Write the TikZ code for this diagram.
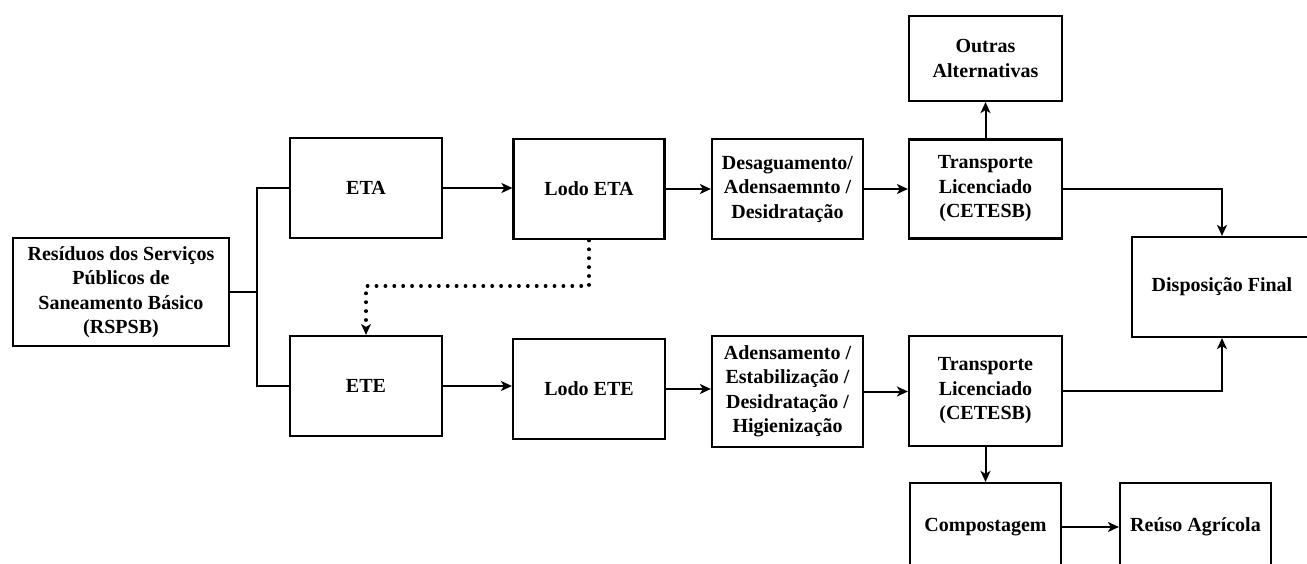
\documentclass[tikz,border=0pt]{standalone}
\usepackage{fontspec}
\setmainfont{Liberation Serif}
\usetikzlibrary{arrows.meta}
\begin{document}
\begin{tikzpicture}[x=1pt,y=-1pt,
  box/.style={draw,line width=2.2pt,rectangle,align=center,inner sep=0pt,
    font=\fontsize{20}{24.5}\selectfont\bfseries},
  conn/.style={line width=2pt},
  arr/.style={conn,-{Stealth[length=11pt,width=10pt,inset=3pt]}},
  dotarr/.style={line width=3.2pt,line cap=round,dash pattern=on 0.6pt off 8.3pt,
    -{Stealth[length=11pt,width=10pt,inset=3pt,line width=0pt]}}]
\useasboundingbox (0,0) rectangle (1307,564);
\node[box,minimum width=216pt,minimum height=108pt] (rsp) at (121,292) {Resíduos dos Serviços\\Públicos de\\Saneamento Básico\\(RSPSB)};
\node[box,minimum width=152pt,minimum height=100pt] (eta) at (366,188) {ETA};
\node[box,minimum width=151pt,minimum height=100pt] (lodoeta) at (589,189) {Lodo ETA};
\node[box,minimum width=151pt,minimum height=100pt] (desag) at (787.5,189) {Desaguamento/\\Adensaemnto /\\Desidratação};
\node[box,minimum width=153pt,minimum height=99pt] (trA) at (985.5,189) {Transporte\\Licenciado\\(CETESB)};
\node[box,minimum width=153pt,minimum height=85pt] (outras) at (985.5,58.5) {Outras\\Alternativas};
\node[box,minimum width=180pt,minimum height=100pt] (disp) at (1222,287) {Disposição Final};
\node[box,minimum width=152pt,minimum height=100pt] (ete) at (366,386) {ETE};
\node[box,minimum width=152pt,minimum height=100pt] (lodoete) at (589,389) {Lodo ETE};
\node[box,minimum width=151pt,minimum height=111pt] (adens) at (787.5,391.5) {Adensamento /\\Estabilização /\\Desidratação /\\Higienização};
\node[box,minimum width=153pt,minimum height=110pt] (trB) at (985.5,391) {Transporte\\Licenciado\\(CETESB)};
\node[box,minimum width=151pt,minimum height=88pt] (comp) at (985.5,527) {Compostagem};
\node[box,minimum width=151pt,minimum height=88pt] (reuso) at (1195.5,527) {Reúso Agrícola};
\coordinate (branch) at (257,292);
\coordinate (dotc) at (366,286);
\draw[conn] (rsp.east) -- (branch);
\draw[conn] (eta.west) -| (branch);
\draw[conn] (ete.west) -| (branch);
\draw[arr] (eta.east) -- (eta.east -| lodoeta.west);
\draw[arr] (lodoeta.east) -- (desag.west);
\draw[arr] (desag.east) -- (trA.west);
\draw[arr] (trA.north) -- (outras.south);
\draw[arr] (trA.east) -| (disp.north);
\draw[dotarr] (lodoeta.south) |- (dotc) -- (ete.north);
\draw[arr] (ete.east) -- (ete.east -| lodoete.west);
\draw[arr] (lodoete.east) -- (lodoete.east -| adens.west);
\draw[arr] (adens.east) -- (adens.east -| trB.west);
\draw[arr] (trB.east) -| (disp.south);
\draw[arr] (trB.south) -- (comp.north);
\draw[arr] (comp.east) -- (reuso.west);
\end{tikzpicture}
\end{document}
